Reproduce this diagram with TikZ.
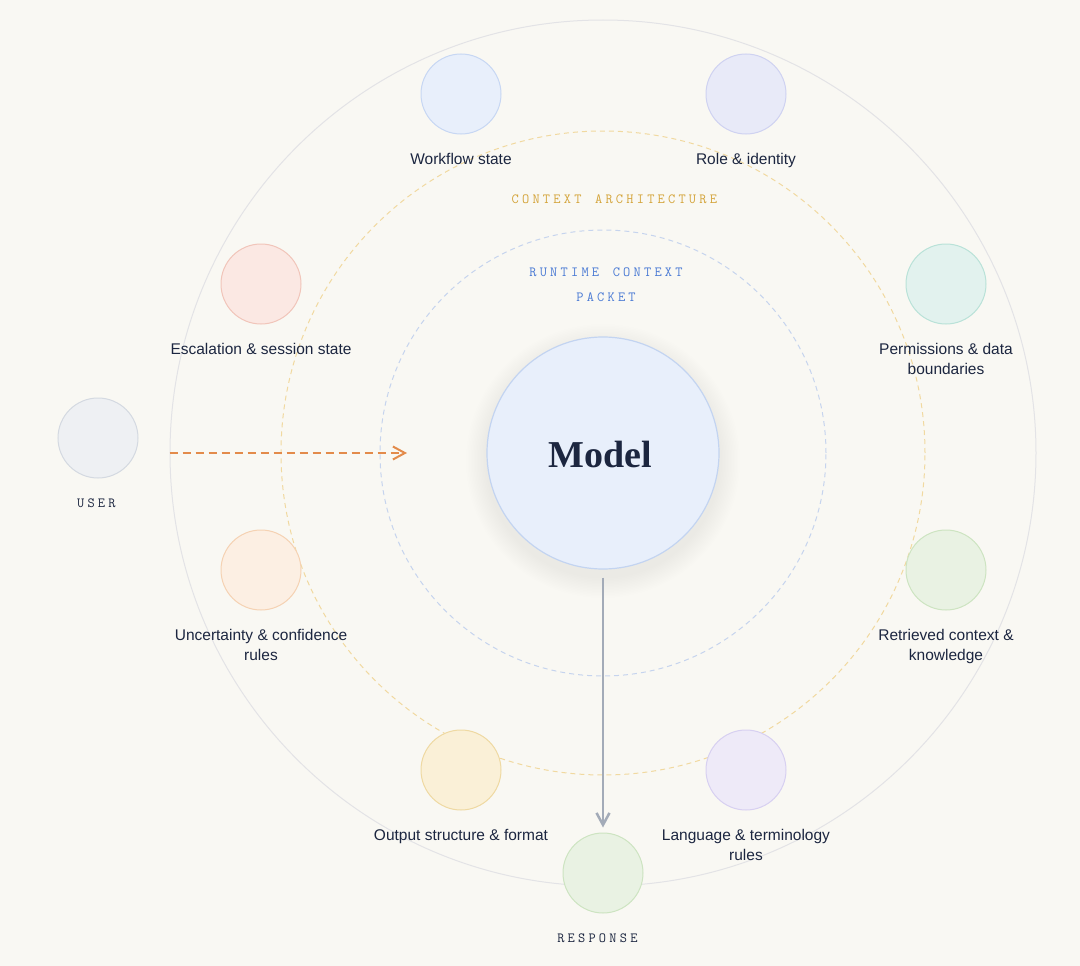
\documentclass[tikz,border=0pt]{standalone}
\usepackage{fontspec}
\setmainfont{Liberation Sans}
\newfontfamily\modelfont{Liberation Serif}
\usetikzlibrary{arrows.meta,positioning}
\definecolor{paper}{HTML}{F9F8F3}
\definecolor{ink}{HTML}{1C2640}
\definecolor{outerline}{HTML}{E3E3E6}
\definecolor{goldline}{HTML}{F1D9A0}
\definecolor{goldtext}{HTML}{D4A43A}
\definecolor{blueline}{HTML}{C6D4EE}
\definecolor{bluetext}{HTML}{4A7AD4}
\definecolor{modelfill}{HTML}{E8EFFB}
\definecolor{modelline}{HTML}{C3D4F1}
\definecolor{orange}{HTML}{E38B4B}
\definecolor{slate}{HTML}{A3ABB8}
\definecolor{fBlue}{HTML}{E8EFFB}\definecolor{dBlue}{HTML}{C7D7F3}
\definecolor{fIndigo}{HTML}{E8EAF8}\definecolor{dIndigo}{HTML}{CFD2F1}
\definecolor{fRed}{HTML}{FBE8E3}\definecolor{dRed}{HTML}{F1C5BA}
\definecolor{fTeal}{HTML}{E2F2EE}\definecolor{dTeal}{HTML}{B9E2D8}
\definecolor{fOrange}{HTML}{FCEFE3}\definecolor{dOrange}{HTML}{F5D2B3}
\definecolor{fGreen}{HTML}{E9F2E3}\definecolor{dGreen}{HTML}{CDE4C1}
\definecolor{fYellow}{HTML}{FAF0D7}\definecolor{dYellow}{HTML}{EFD9A2}
\definecolor{fPurple}{HTML}{EEEAF8}\definecolor{dPurple}{HTML}{D7D0F1}
\definecolor{fGray}{HTML}{EEF0F3}\definecolor{dGray}{HTML}{D4D9E1}
% letter-spaced caps
\makeatletter
\newcommand\spaced[1]{\sp@ced#1\relax}
\def\sp@ced#1{\ifx#1\relax\else#1\hspace{0.23em}\expandafter\sp@ced\fi}
\makeatother

\begin{document}
\begin{tikzpicture}[x=1pt,y=-1pt,
  sat/.style={circle,minimum size=80pt,inner sep=0pt,line width=1pt,fill=f#1,draw=d#1},
  lab/.style={font=\fontsize{15.5}{20}\selectfont,text=ink,align=center,inner sep=0pt},
  tag/.style={font=\ttfamily\fontsize{14}{25}\selectfont,align=center,inner sep=0pt},
  ring/.style={circle,inner sep=0pt,line width=1pt}]
  \fill[paper] (0,0) rectangle (1080,966);
  \useasboundingbox (0,0) rectangle (1080,966);
  % rings
  \node[ring,draw=outerline,minimum size=866pt] (outer) at (603,453) {};
  \node[ring,draw=goldline,dash pattern=on 5pt off 4pt,minimum size=644pt] (arch) at (603,453) {};
  \node[ring,draw=blueline,dash pattern=on 5pt off 4pt,minimum size=446pt] (packet) at (603,453) {};
  \node[tag,text=goldtext] (archtag) at (616,199) {\spaced{CONTEXT~ARCHITECTURE}};
  \node[tag,text=bluetext] (packettag) at (606,284.5) {\spaced{RUNTIME~CONTEXT}\\\spaced{PACKET}};
  % model
  \foreach \k in {1,...,14}
    \fill[black,opacity=0.005] (603,461) circle ({116+1.5*\k});
  \node[circle,minimum size=232pt,fill=modelfill,draw=modelline,line width=1.2pt,
    text=ink] (model) at (603,453) {};
  \node[font=\modelfont\bfseries\fontsize{38}{40}\selectfont,text=ink] (modeltext) at (600,454) {Model};
  % context blocks
  \foreach \nm/\px/\py/\col/\txt in {
    workflow/461/94/Blue/{Workflow state},
    role/746/94/Indigo/{Role \& identity},
    escalation/261/284/Red/{Escalation \& session state},
    permissions/946/284/Teal/{Permissions \& data\\boundaries},
    uncertainty/261/570/Orange/{Uncertainty \& confidence\\rules},
    retrieved/946/570/Green/{Retrieved context \&\\knowledge},
    output/461/770/Yellow/{Output structure \& format},
    language/746/770/Purple/{Language \& terminology\\rules}}{
    \node[sat=\col] (\nm) at (\px,\py) {};
    \node[lab,below=19pt of \nm] (\nm-lab) {\txt};
  }
  % user and response
  \node[sat=Gray] (user) at (98,438) {};
  \node[tag,text=ink,below=20pt of user] (user-lab) {\spaced{USER}};
  \node[sat=Green] (response) at (603,873) {};
  \node[tag,text=ink,below=20pt of response,xshift=-4pt] (response-lab) {\spaced{RESPONSE}};
  \coordinate (entry) at (407,453);
  \draw[orange,line width=2pt,dash pattern=on 8pt off 5pt,
    -{Straight Barb[length=12pt,width=13pt,line width=2pt]}] (outer.west) -- (entry);
  \draw[slate,line width=2.5pt,shorten <=8pt,shorten >=5pt,
    -{Straight Barb[length=12pt,width=13pt,line width=2.5pt]}] (model) -- (response);
\end{tikzpicture}
\end{document}
